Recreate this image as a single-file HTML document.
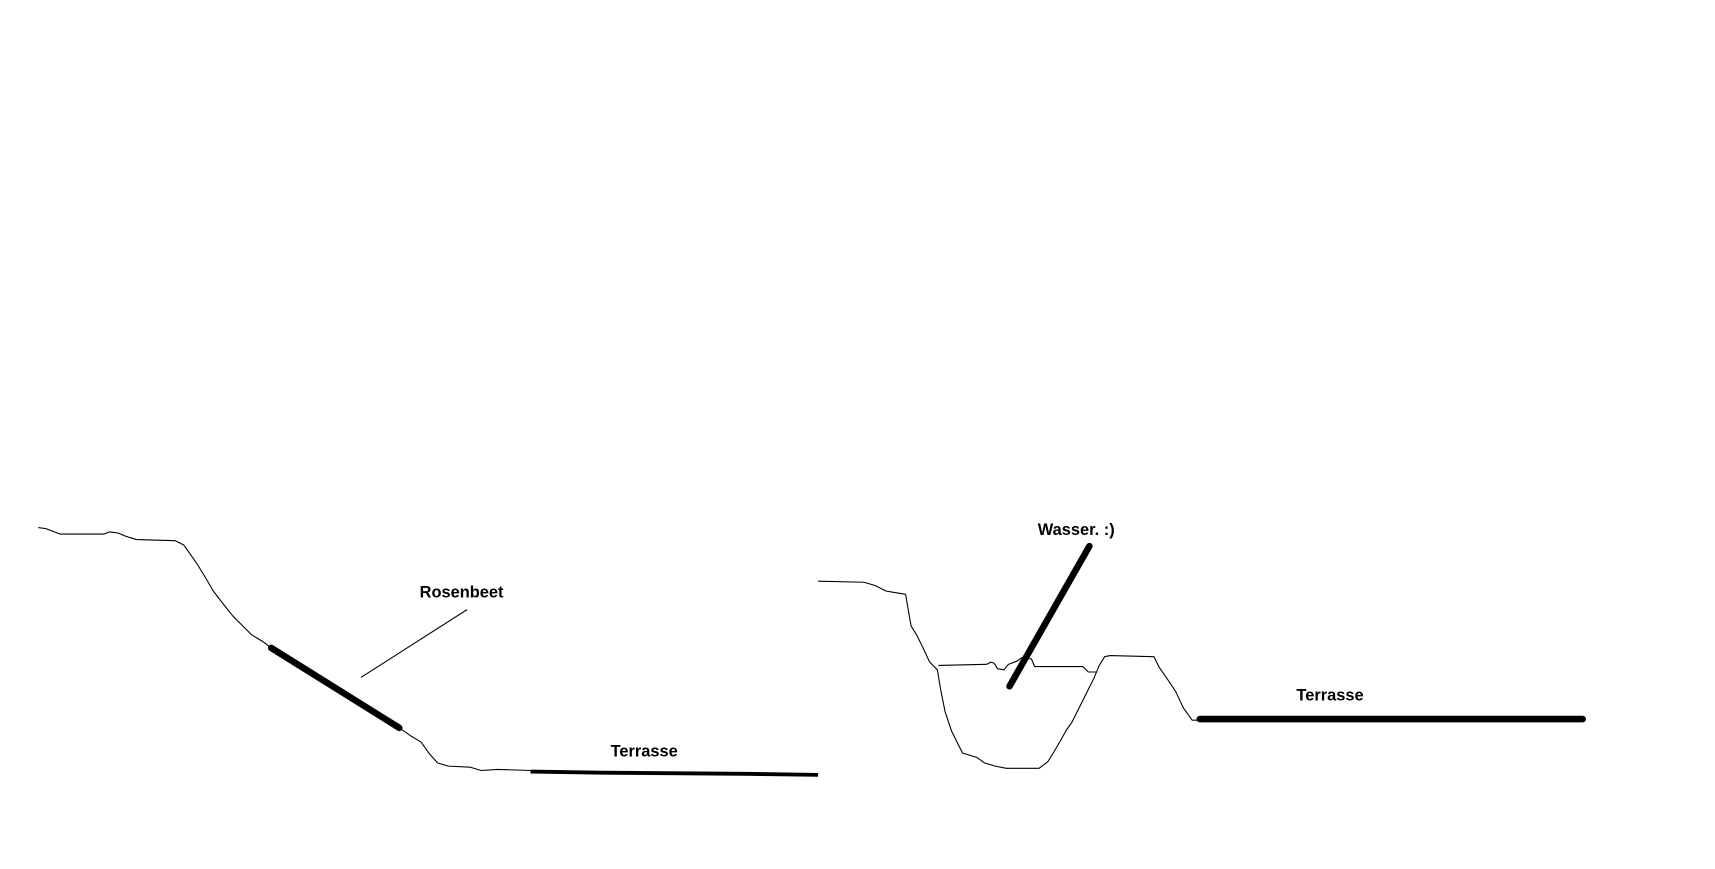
<!DOCTYPE html>
<html><head><meta charset="utf-8"><style>
html,body{margin:0;padding:0;background:#fff;}
svg{display:block;}
text{font-family:"Liberation Sans",sans-serif;font-weight:bold;font-size:15px;fill:#000;}
</style></head><body>
<svg width="1715" height="869" viewBox="0 0 1568 794" preserveAspectRatio="none" xmlns="http://www.w3.org/2000/svg">
<rect width="1568" height="794" fill="#fff"/>
<g fill="none" stroke="#000" stroke-linejoin="round">
<path stroke-width="1" d="M35,482 L42,483 L55,488 L95,488 L100,486 L108,487 L115,490 L125,493 L160,494 L168,498 L173,505 L180,515 L188,528 L195,540 L205,553 L213,563 L222,572 L230,580 L240,586 L248,592"/>
<path stroke-width="6" stroke-linecap="round" d="M248,592 L365,665"/>
<path stroke-width="1" d="M365,665 L375,672 L385,678 L392,688 L400,697 L410,700 L430,701 L440,704 L455,703 L485,704"/>
<path stroke-width="3.5" d="M485,705 L550,706 L680,707 L748,708"/>
<path stroke-width="1" d="M330,619 L427,557"/>
<path stroke-width="1" d="M748,531 L790,532 L800,535 L810,540 L828,543 L830,555 L833,572 L838,580 L843,590 L850,605 L857,612 L860,630 L864,650 L870,668 L876,680 L880,688 L893,692 L900,697 L910,700 L920,702 L950,702 L958,696 L963,688 L970,676 L975,667 L980,660 L985,650 L990,640 L995,630 L1000,620 L1005,608 L1010,600 L1015,599 L1055,600 L1060,610 L1067,620 L1075,632 L1082,647 L1090,658 L1097,658"/>
<path stroke-width="1" d="M858,608 L902,607 L906,605 L909,606 L912,611 L918,612 L922,607 L930,604 L934,601 L943,602 L946,609 L990,609 L995,614 L1003,614"/>
<path stroke-width="6" stroke-linecap="round" d="M996,499 L923,627"/>
<path stroke-width="6" stroke-linecap="round" d="M1097,657 L1447,657"/>
</g>
<text x="422" y="546" text-anchor="middle">Rosenbeet</text>
<text x="589" y="691" text-anchor="middle">Terrasse</text>
<text x="984" y="489" text-anchor="middle">Wasser. :)</text>
<text x="1216" y="640" text-anchor="middle">Terrasse</text>
</svg>
</body></html>
